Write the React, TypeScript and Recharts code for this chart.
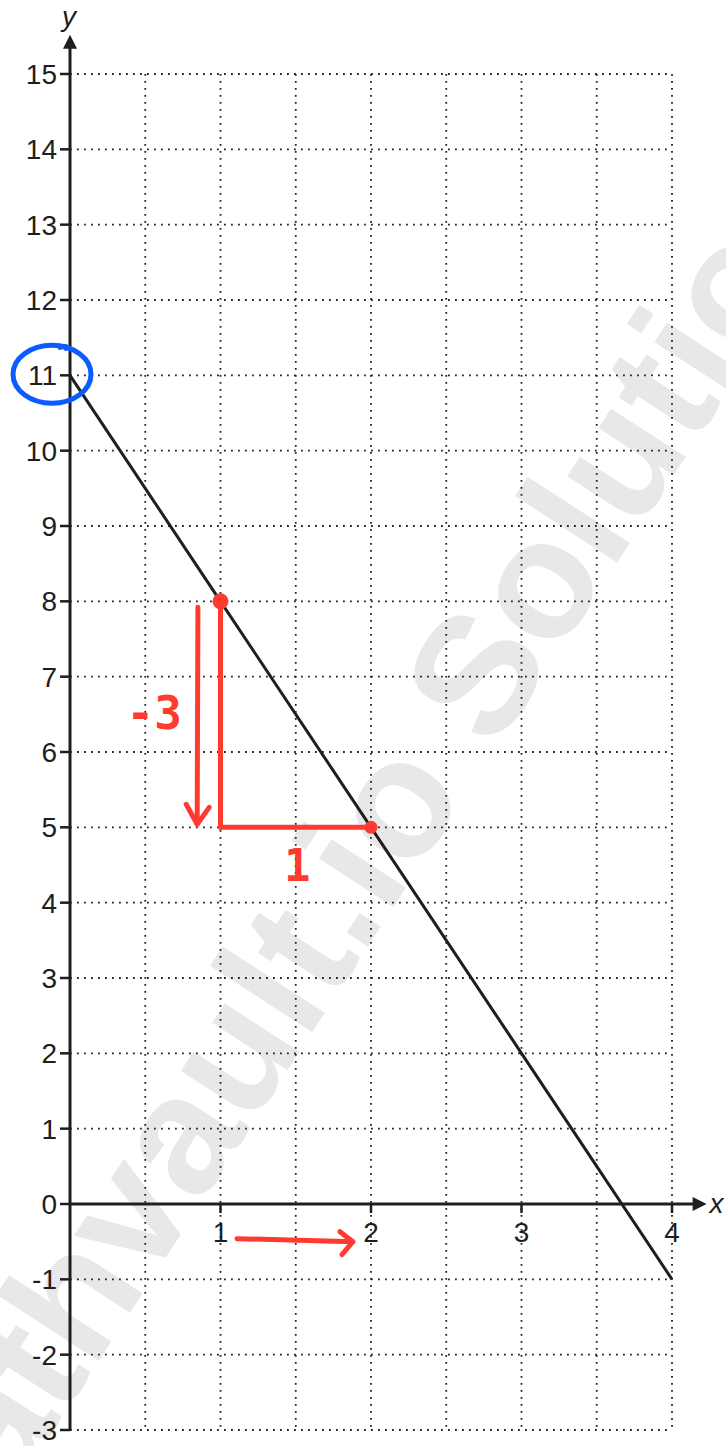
import React from "react";
import {
    ComposedChart,
    Line,
    XAxis,
    YAxis,
    CartesianGrid,
    ReferenceLine,
    ReferenceDot,
} from "recharts";

// the line y = -3x + 11
const xValues = [0, 1, 2, 3, 4];
const yValues = [11, 8, 5, 2, -1];

// grid + tick labels
const xGridTicks = [0, 0.5, 1, 1.5, 2, 2.5, 3, 3.5, 4];
const xTickLabels = [1, 2, 3, 4];
const yTicks = [-3, -2, -1, 0, 1, 2, 3, 4, 5, 6, 7, 8, 9, 10, 11, 12, 13, 14, 15];

// red rise / run annotation
const pointA = { x: 1, y: 8 };
const pointB = { x: 2, y: 5 };
const riseLabel = "-3";
const runLabel = "1";
const circledIntercept = 11;

const RED = "#ff3b30";
const BLUE = "#0a5cff";
const INK = "#1e1e1e";
const FONT = "Liberation Sans, Arial, sans-serif";

const data = xValues.map((x, i) => ({ x, y: yValues[i] }));

export default function App() {

    return (
        <div style={{ position: "absolute", left: 0, top: 0, width: 726, height: 1446, background: "#fff" }}>
            {/* watermark behind the chart */}
            <svg width={726} height={1446} style={{ position: "absolute", left: 0, top: 0 }}>
                <text
                    x={420}
                    y={866}
                    textAnchor="middle"
                    transform="rotate(-57 420 866)"
                    fontFamily={FONT}
                    fontWeight={700}
                    fontSize={168}
                    fill="#e8e8e8">
                    mathvault.io Solutions
                </text>
            </svg>
            <div style={{ position: "absolute", left: 0, top: 0 }}>
                <ComposedChart
                    width={726}
                    height={1446}
                    data={data}
                    margin={{ top: 74, right: 54, bottom: 16, left: 0 }}>
                    <CartesianGrid
                        stroke="#222"
                        strokeWidth={1.8}
                        strokeDasharray="1.8 5.2" />
                    <XAxis
                        type="number"
                        dataKey="x"
                        domain={[0, 4]}
                        ticks={xGridTicks}
                        interval={0}
                        height={0}
                        tick={() => <g />}
                        tickLine={false}
                        axisLine={false} />
                    <YAxis
                        type="number"
                        domain={[-3, 15]}
                        ticks={yTicks}
                        interval={0}
                        width={70}
                        tickSize={10}
                        tickMargin={3}
                        tick={{ fontSize: 28, fontFamily: FONT, fill: INK }}
                        tickLine={{ stroke: INK, strokeWidth: 2.5 }}
                        axisLine={{ stroke: INK, strokeWidth: 3 }} />

                    {/* y axis extension + arrow */}
                    <ReferenceLine
                        segment={[{ x: 0, y: 15 }, { x: 0, y: 15.36 }]}
                        stroke={INK}
                        strokeWidth={3}
                        ifOverflow="visible" />
                    <ReferenceDot
                        x={0}
                        y={15.52}
                        ifOverflow="visible"
                        shape={(p: any) => (
                            <g>
                                <polygon
                                    points={`${p.cx},${p.cy} ${p.cx - 7},${p.cy + 14} ${p.cx + 7},${p.cy + 14}`}
                                    fill={INK} />
                                <text
                                    x={p.cx - 1}
                                    y={p.cy - 9}
                                    textAnchor="middle"
                                    fontStyle="italic"
                                    fontSize={28}
                                    fontFamily={FONT}
                                    fill={INK}>y</text>
                            </g>
                        )} />

                    {/* x axis at y = 0 with arrow */}
                    <ReferenceLine
                        segment={[{ x: 0, y: 0 }, { x: 4.15, y: 0 }]}
                        stroke={INK}
                        strokeWidth={3}
                        ifOverflow="visible" />
                    <ReferenceDot
                        x={4.23}
                        y={0}
                        ifOverflow="visible"
                        shape={(p: any) => (
                            <g>
                                <polygon
                                    points={`${p.cx},${p.cy} ${p.cx - 14},${p.cy - 7} ${p.cx - 14},${p.cy + 7}`}
                                    fill={INK} />
                                <text
                                    x={p.cx + 3}
                                    y={p.cy + 9}
                                    fontStyle="italic"
                                    fontSize={28}
                                    fontFamily={FONT}
                                    fill={INK}>x</text>
                            </g>
                        )} />
                    {xTickLabels.map(v => (
                        <ReferenceDot
                            key={`xt-${v}`}
                            x={v}
                            y={0}
                            ifOverflow="visible"
                            shape={(p: any) => (
                                <g>
                                    <line x1={p.cx} y1={p.cy} x2={p.cx} y2={p.cy + 9} stroke={INK} strokeWidth={2.5} />
                                    <text
                                        x={p.cx}
                                        y={p.cy + 38}
                                        textAnchor="middle"
                                        fontSize={28}
                                        fontFamily={FONT}
                                        fill={INK}>{v}</text>
                                </g>
                            )} />
                    ))}

                    <Line
                        dataKey="y"
                        type="linear"
                        stroke={INK}
                        strokeWidth={3}
                        dot={false}
                        activeDot={false}
                        isAnimationActive={false} />

                    {/* red triangle: rise and run */}
                    <ReferenceLine
                        segment={[{ x: pointA.x, y: pointA.y }, { x: pointA.x, y: pointB.y }]}
                        stroke={RED}
                        strokeWidth={5}
                        strokeLinecap="round"
                        ifOverflow="visible" />
                    <ReferenceLine
                        segment={[{ x: pointA.x, y: pointB.y }, { x: pointB.x, y: pointB.y }]}
                        stroke={RED}
                        strokeWidth={5}
                        strokeLinecap="round"
                        ifOverflow="visible" />
                    <ReferenceDot x={pointA.x} y={pointA.y} r={8} fill={RED} stroke="none" ifOverflow="visible" />
                    <ReferenceDot x={pointB.x} y={pointB.y} r={6.5} fill={RED} stroke="none" ifOverflow="visible" />

                    {/* down arrow next to the rise */}
                    <ReferenceLine
                        segment={[{ x: 0.85, y: 7.92 }, { x: 0.845, y: 5.04 }]}
                        stroke={RED}
                        strokeWidth={5}
                        strokeLinecap="round"
                        ifOverflow="visible" />
                    <ReferenceDot
                        x={0.845}
                        y={5.04}
                        ifOverflow="visible"
                        shape={(p: any) => (
                            <path
                                d={`M ${p.cx - 11} ${p.cy - 20} L ${p.cx} ${p.cy} L ${p.cx + 12} ${p.cy - 17}`}
                                fill="none"
                                stroke={RED}
                                strokeWidth={5}
                                strokeLinecap="round"
                                strokeLinejoin="round" />
                        )} />
                    <ReferenceDot
                        x={0.56}
                        y={6.52}
                        ifOverflow="visible"
                        shape={(p: any) => (
                            <text
                                x={p.cx}
                                y={p.cy + 16}
                                textAnchor="middle"
                                fontSize={46}
                                fontWeight={700}
                                fontFamily="DejaVu Sans Mono, monospace"
                                fill={RED}>{riseLabel}</text>
                        )} />
                    <ReferenceDot
                        x={1.51}
                        y={4.5}
                        ifOverflow="visible"
                        shape={(p: any) => (
                            <text
                                x={p.cx}
                                y={p.cy + 16}
                                textAnchor="middle"
                                fontSize={44}
                                fontWeight={700}
                                fontFamily="DejaVu Sans Mono, monospace"
                                fill={RED}>{runLabel}</text>
                        )} />

                    {/* right arrow under the x axis */}
                    <ReferenceLine
                        segment={[{ x: 1.11, y: -0.46 }, { x: 1.88, y: -0.5 }]}
                        stroke={RED}
                        strokeWidth={5}
                        strokeLinecap="round"
                        ifOverflow="visible" />
                    <ReferenceDot
                        x={1.88}
                        y={-0.5}
                        ifOverflow="visible"
                        shape={(p: any) => (
                            <path
                                d={`M ${p.cx - 13} ${p.cy - 10} L ${p.cx} ${p.cy} L ${p.cx - 11} ${p.cy + 13}`}
                                fill="none"
                                stroke={RED}
                                strokeWidth={5}
                                strokeLinecap="round"
                                strokeLinejoin="round" />
                        )} />

                    {/* blue circle round the intercept label */}
                    <ReferenceDot
                        x={0}
                        y={circledIntercept}
                        ifOverflow="visible"
                        shape={(p: any) => (
                            <g>
                                <ellipse
                                    cx={p.cx - 18}
                                    cy={p.cy - 1}
                                    rx={39}
                                    ry={29}
                                    fill="none"
                                    stroke={BLUE}
                                    strokeWidth={5} />
                                <path
                                    d={`M ${p.cx - 10} ${p.cy - 28} Q ${p.cx - 2} ${p.cy - 30} ${p.cx - 4} ${p.cy - 27}`}
                                    fill="none"
                                    stroke={BLUE}
                                    strokeWidth={5}
                                    strokeLinecap="round" />
                            </g>
                        )} />
                </ComposedChart>
            </div>
        </div>
    );
}
